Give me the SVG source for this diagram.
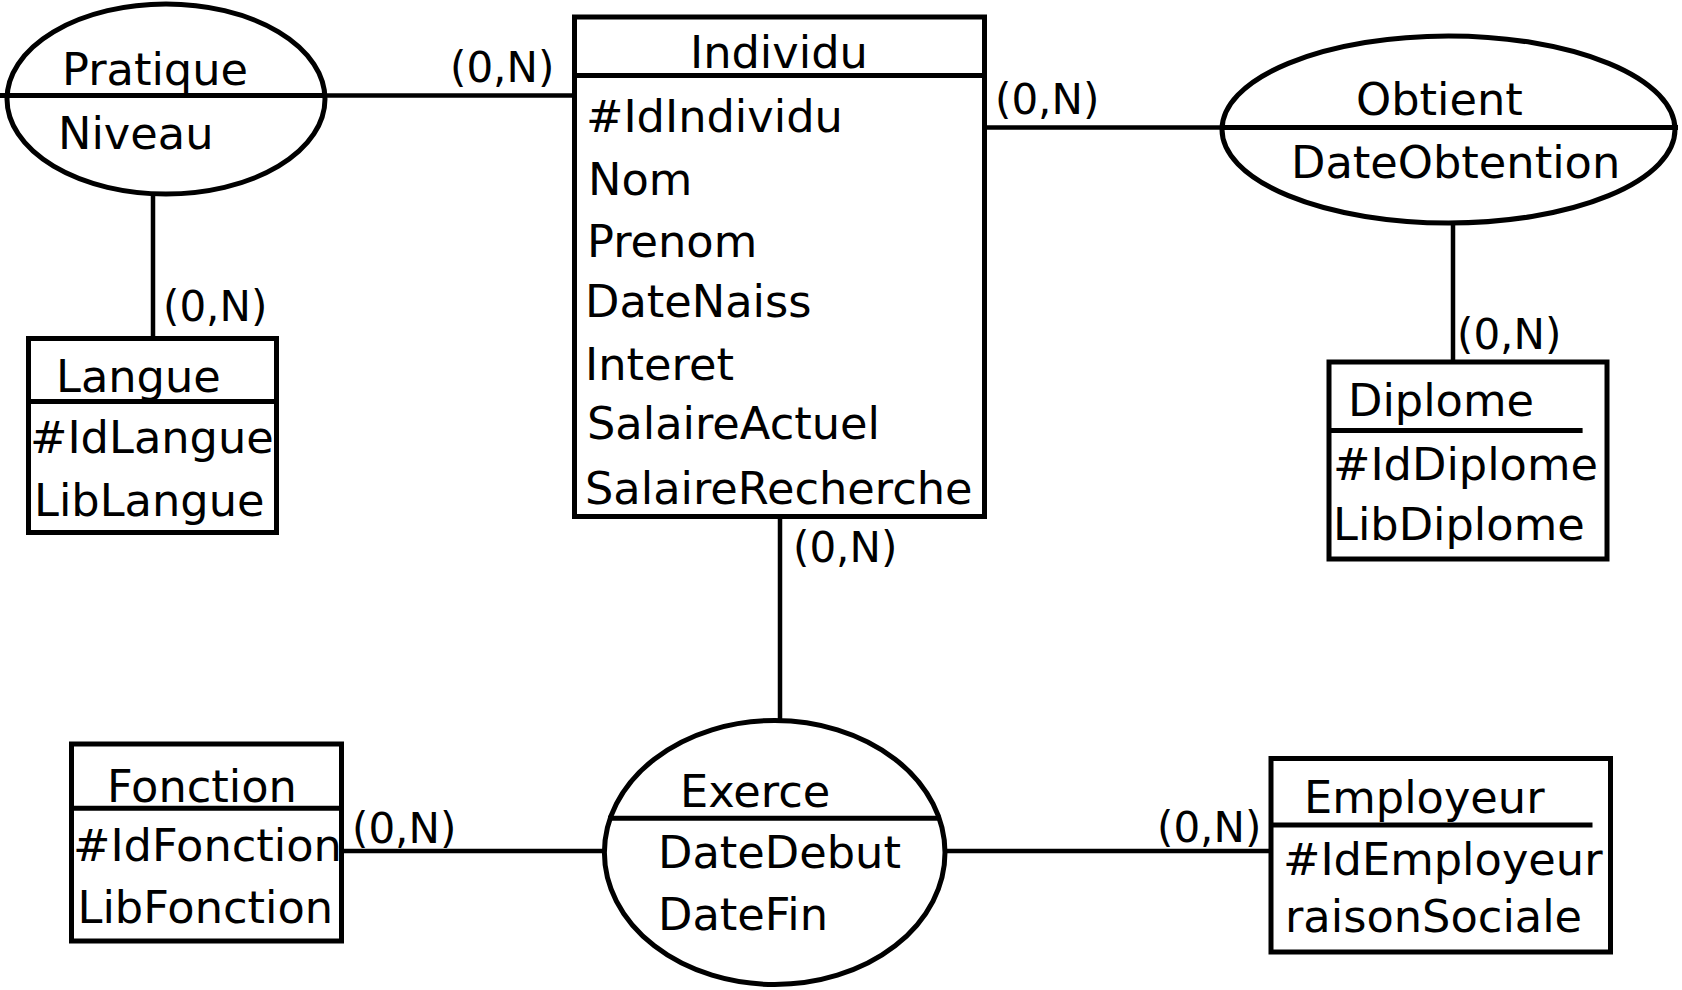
<svg xmlns="http://www.w3.org/2000/svg" width="1682" height="990" viewBox="0 0 1682 990">
<style>
.shape{fill:none;stroke:#000;stroke-width:5}
.conn{fill:none;stroke:#000;stroke-width:4.5}
text{font-family:"DejaVu Sans","Liberation Sans",sans-serif;fill:#000}
.t{font-size:44.7px}
.c{font-size:42px}
</style>
<rect width="1682" height="990" fill="#fff"/>
<g id="connectors">
<line class="conn" x1="327" y1="95.4" x2="575" y2="95.4"/>
<line class="conn" x1="153" y1="194" x2="153" y2="338"/>
<line class="conn" x1="984" y1="127.4" x2="1222" y2="127.4"/>
<line class="conn" x1="1453" y1="223" x2="1453" y2="362"/>
<line class="conn" x1="780" y1="517" x2="780" y2="721"/>
<line class="conn" x1="344" y1="851" x2="604" y2="851"/>
<line class="conn" x1="945" y1="851" x2="1271" y2="851"/>
<text class="c" x="450" y="82">(0,N)</text>
<text class="c" x="163" y="321">(0,N)</text>
<text class="c" x="995" y="114">(0,N)</text>
<text class="c" x="1457" y="349">(0,N)</text>
<text class="c" x="793" y="562">(0,N)</text>
<text class="c" x="352" y="842.7">(0,N)</text>
<text class="c" x="1157" y="841.7">(0,N)</text>
</g>
<g id="pratique">
<ellipse class="shape" cx="166" cy="99" rx="159" ry="95"/>
<line class="shape" x1="0" y1="95.4" x2="327" y2="95.4"/>
<text class="t" x="62" y="85">Pratique</text>
<text class="t" x="58" y="149">Niveau</text>
</g>
<g id="langue">
<rect class="shape" x="28.5" y="338.5" width="248" height="194"/>
<line class="shape" x1="28.5" y1="401.6" x2="276.5" y2="401.6"/>
<text class="t" x="56" y="392">Langue</text>
<text class="t" x="30" y="452.5">#IdLangue</text>
<text class="t" x="34" y="515.6">LibLangue</text>
</g>
<g id="individu">
<rect class="shape" x="574.5" y="17" width="410" height="499.5"/>
<line class="shape" x1="574.5" y1="75.4" x2="984.5" y2="75.4"/>
<text class="t" x="690" y="67.7">Individu</text>
<text class="t" x="586" y="132">#IdIndividu</text>
<text class="t" x="588" y="195">Nom</text>
<text class="t" x="587" y="257">Prenom</text>
<text class="t" x="585" y="317">DateNaiss</text>
<text class="t" x="585" y="379.5">Interet</text>
<text class="t" x="587" y="438.5">SalaireActuel</text>
<text class="t" x="585" y="504">SalaireRecherche</text>
</g>
<g id="obtient">
<ellipse class="shape" cx="1448.5" cy="129.5" rx="226.5" ry="93.5"/>
<line class="shape" x1="1222" y1="127.4" x2="1678" y2="127.4"/>
<text class="t" x="1356" y="115">Obtient</text>
<text class="t" x="1291" y="178">DateObtention</text>
</g>
<g id="diplome">
<rect class="shape" x="1329" y="362" width="278" height="197"/>
<line class="shape" x1="1329" y1="430.5" x2="1582.6" y2="430.5"/>
<text class="t" x="1348" y="416">Diplome</text>
<text class="t" x="1333" y="480">#IdDiplome</text>
<text class="t" x="1333" y="540">LibDiplome</text>
</g>
<g id="fonction">
<rect class="shape" x="71.5" y="744" width="270" height="197"/>
<line class="shape" x1="71.5" y1="808.3" x2="341.5" y2="808.3"/>
<text class="t" x="107" y="801.7">Fonction</text>
<text class="t" x="73" y="860.7">#IdFonction</text>
<text class="t" x="77.5" y="922.7">LibFonction</text>
</g>
<g id="exerce">
<ellipse class="shape" cx="774.7" cy="852.5" rx="170.3" ry="132"/>
<line class="shape" x1="608" y1="818.3" x2="941" y2="818.3"/>
<text class="t" x="680" y="806.7">Exerce</text>
<text class="t" x="658" y="868.3">DateDebut</text>
<text class="t" x="658" y="930">DateFin</text>
</g>
<g id="employeur">
<rect class="shape" x="1271" y="758.5" width="339.5" height="193.5"/>
<line class="shape" x1="1271" y1="825" x2="1592.5" y2="825"/>
<text class="t" x="1304" y="813">Employeur</text>
<text class="t" x="1283" y="875">#IdEmployeur</text>
<text class="t" x="1285" y="931.7">raisonSociale</text>
</g>
</svg>
